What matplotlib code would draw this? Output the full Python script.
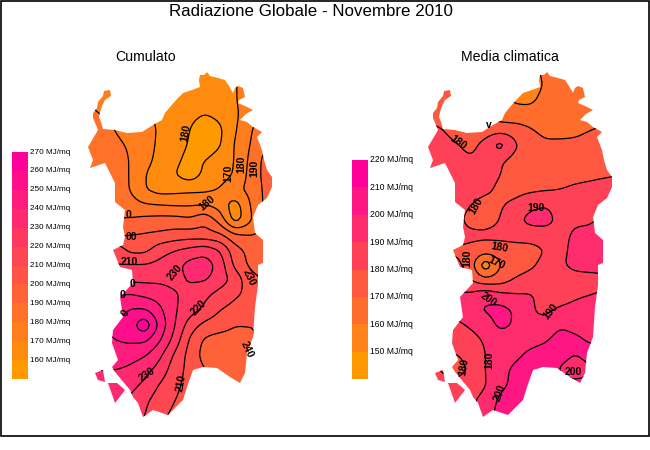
import numpy as np
import matplotlib
matplotlib.use('Agg')
import matplotlib.pyplot as plt
from matplotlib.colors import LinearSegmentedColormap
from matplotlib.path import Path
from matplotlib.patches import PathPatch, Rectangle

plt.rcParams['font.family'] = ['Liberation Sans', 'DejaVu Sans']

TITLE = 'Radiazione Globale - Novembre 2010'
UNIT = 'MJ/mq'

# coastline, in pixels
coast_main = [(110, 90), (111, 96), (105, 100), (102, 106), (100, 112), (99, 117), (101, 122), (103, 129),
              (115, 130), (127, 133), (142, 132), (153, 125), (162, 120), (165, 113), (170, 107), (178, 98),
              (183, 93), (192, 90), (200, 87), (199, 80), (200, 75), (204, 75), (207, 72), (210, 76), (218, 78),
              (225, 80), (229, 86), (233, 93), (235, 88), (238, 86), (243, 88), (245, 97), (239, 100), (238, 103),
              (245, 106), (253, 110), (246, 114), (240, 120), (247, 122), (253, 127), (262, 132), (257, 137),
              (262, 150), (264, 160), (267, 170), (272, 177), (272, 187), (267, 198), (258, 205), (253, 217),
              (255, 233), (263, 240), (263, 263), (258, 265), (258, 285), (255, 307), (253, 337), (247, 353),
              (245, 373), (240, 383), (230, 377), (217, 368), (203, 367), (193, 370), (187, 387), (183, 400),
              (168, 415), (153, 410), (143, 417), (138, 403), (133, 397), (130, 390), (115, 372), (112, 367),
              (118, 360), (112, 343), (113, 330), (123, 317), (120, 297), (133, 283), (132, 270), (120, 267),
              (113, 250), (123, 245), (125, 237), (123, 227), (125, 210), (115, 202), (115, 183), (105, 163),
              (90, 168), (93, 160), (88, 147), (98, 130), (96, 125), (93, 118), (93, 113), (97, 108), (98, 102),
              (103, 96), (104, 91)]
coast_san_pietro = [(95, 373), (103, 370), (105, 382), (98, 380)]
coast_antioco = [(108, 383), (117, 383), (125, 390), (115, 403)]
MAP_SHIFT = 340

grid_x = [85, 100, 115, 130, 145, 160, 175, 190, 205, 220, 235, 250, 265, 280]
grid_y = list(range(70, 431, 15))

# Cumulato, MJ/mq
cumulato = [
    [178, 178, 178, 176, 172, 168, 166, 166, 165, 165, 170, 176, 180, 182],
    [178, 178, 178, 175, 172, 168, 165, 164, 164, 165, 169, 176, 180, 182],
    [180, 179, 178, 175, 172, 168, 165, 163, 162, 164, 169, 176, 182, 184],
    [181, 180, 179, 175, 172, 168, 165, 162, 160, 162, 168, 176, 184, 186],
    [185, 182, 180, 176, 173, 169, 165, 160, 154, 158, 169, 179, 186, 188],
    [186, 184, 182, 179, 174, 168, 164, 159, 153, 159, 171, 180, 189, 192],
    [186, 185, 183, 180, 173, 167, 162, 157, 160, 165, 170, 182, 193, 195],
    [188, 186, 184, 180, 170, 165, 160, 155, 162, 165, 171, 183, 193, 196],
    [189, 187, 185, 180, 170, 166, 167, 168, 168, 171, 179, 182, 192, 197],
    [191, 190, 188, 184, 181, 180, 179, 179, 180, 176, 164, 180, 192, 197],
    [188, 189, 190, 191, 193, 194, 194, 192, 198, 186, 164, 178, 192, 197],
    [194, 196, 198, 200, 201, 202, 204, 205, 204, 202, 192, 190, 192, 197],
    [212, 215, 218, 207, 207, 216, 220, 223, 226, 220, 204, 197, 195, 197],
    [219, 219, 220, 221, 221, 223, 227, 234, 236, 226, 207, 198, 197, 197],
    [224, 225, 226, 228, 228, 228, 227, 231, 231, 225, 217, 203, 199, 198],
    [238, 239, 240, 241, 238, 236, 231, 227, 222, 216, 211, 208, 205, 205],
    [244, 244, 244, 251, 251, 242, 231, 224, 218, 210, 207, 205, 204, 204],
    [250, 250, 252, 256, 269, 247, 230, 215, 207, 204, 200, 200, 200, 200],
    [246, 248, 250, 252, 252, 241, 226, 208, 198, 196, 197, 199, 203, 203],
    [244, 245, 246, 244, 241, 232, 218, 206, 196, 195, 196, 199, 203, 203],
    [240, 240, 240, 238, 233, 226, 214, 207, 200, 196, 196, 198, 200, 200],
    [236, 236, 235, 233, 228, 219, 212, 207, 203, 200, 200, 200, 200, 200],
    [232, 232, 231, 229, 222, 215, 210, 206, 204, 202, 200, 200, 200, 200],
    [230, 229, 228, 226, 220, 212, 208, 205, 203, 202, 200, 200, 200, 200],
    [228, 227, 226, 224, 219, 211, 207, 204, 203, 202, 200, 200, 200, 200],
]

# Media climatica, MJ/mq
media = [
    [172, 171, 170, 168, 166, 163, 158, 157, 162, 164, 165, 165, 165, 165],
    [173, 172, 171, 168, 165, 162, 157, 155, 161, 164, 165, 165, 165, 165],
    [176, 175, 172, 169, 166, 162, 159, 158, 163, 164, 165, 165, 165, 165],
    [179, 176, 174, 171, 169, 165, 163, 164, 165, 165, 165, 165, 166, 166],
    [182, 181, 177, 175, 175, 176, 176, 171, 167, 167, 168, 170, 172, 172],
    [184, 183, 181, 177, 183, 196, 181, 176, 172, 172, 172, 173, 173, 173],
    [186, 186, 185, 181, 184, 181, 177, 175, 175, 175, 175, 175, 175, 175],
    [187, 187, 186, 185, 184, 180, 177, 176, 176, 176, 177, 178, 179, 180],
    [187, 187, 186, 185, 182, 178, 177, 178, 179, 180, 182, 183, 184, 184],
    [186, 186, 185, 180, 176, 179, 182, 188, 190, 187, 186, 186, 186, 186],
    [186, 186, 183, 177, 176, 180, 188, 193, 193, 188, 189, 189, 192, 192],
    [186, 186, 185, 182, 182, 183, 184, 185, 186, 188, 191, 192, 193, 193],
    [181, 180, 178, 178, 176, 175, 176, 176, 180, 188, 192, 193, 193, 193],
    [186, 185, 183, 176, 150, 170, 175, 178, 183, 189, 192, 193, 193, 193],
    [188, 188, 186, 180, 173, 175, 181, 184, 185, 186, 187, 187, 188, 188],
    [192, 192, 192, 192, 198, 193, 191, 191, 187, 187, 189, 190, 191, 191],
    [192, 192, 194, 199, 201, 204, 199, 191, 188, 191, 192, 193, 194, 194],
    [186, 186, 187, 191, 194, 203, 199, 191, 193, 199, 197, 196, 196, 196],
    [184, 184, 185, 187, 191, 194, 195, 197, 199, 204, 202, 199, 197, 197],
    [180, 180, 179, 183, 190, 195, 198, 202, 204, 204, 200, 204, 204, 204],
    [180, 180, 176, 181, 190, 197, 202, 205, 205, 199, 193, 198, 205, 205],
    [183, 183, 183, 185, 189, 198, 202, 204, 204, 205, 204, 205, 205, 205],
    [186, 186, 186, 188, 193, 202, 204, 204, 204, 205, 205, 205, 205, 205],
    [187, 187, 187, 189, 195, 204, 205, 205, 205, 205, 205, 205, 205, 205],
    [187, 187, 187, 189, 195, 204, 205, 205, 205, 205, 205, 205, 205, 205],
]

levels_cumulato = [160, 170, 180, 190, 200, 210, 220, 230, 240, 250, 260]
levels_media = [150, 160, 170, 180, 190, 200, 210]
legend_cumulato = [270, 260, 250, 240, 230, 220, 210, 200, 190, 180, 170, 160]
legend_media = [220, 210, 200, 190, 180, 170, 160, 150]

# inline contour labels as they sit on the maps: x, y, text, rotation
labels_cumulato = [(186, 133, '180', 80), (228, 173, '170', 90), (241, 164, '180', 90), (254, 168, '190', 90),
                   (207, 203, '180', 40), (128, 215, '0', 0), (131, 237, '00', 0), (129, 262, '210', 0),
                   (175, 272, '230', 50), (249, 278, '230', -65), (133, 284, '0', 0), (123, 295, '0', 0),
                   (125, 313, '0', 60), (199, 308, '220', 45), (247, 350, '240', -65), (147, 375, '230', 35),
                   (181, 383, '210', 80)]
labels_media = [(458, 143, '180', -35), (489, 125, 'v', 0), (476, 206, '180', 60), (536, 208, '190', 0),
                (499, 248, '180', -10), (467, 258, '180', 90), (497, 263, '170', -25), (488, 299, '200', -35),
                (551, 311, '190', 50), (489, 360, '180', 90), (464, 367, '180', 80), (500, 393, '200', 70),
                (573, 372, '200', 0)]


def coast_path(dx):
    verts, codes = [], []
    for ring in [coast_main, coast_san_pietro, coast_antioco]:
        pts = [(x + dx, y) for x, y in ring]
        verts += pts + [pts[0]]
        codes += [Path.MOVETO] + [Path.LINETO] * (len(pts) - 1) + [Path.CLOSEPOLY]
    return Path(verts, codes)


def smooth_field(x, y, z):
    # rounder isolines, the readings are only 15 px apart
    fx = np.arange(x[0], x[-1] + 1, 3)
    fy = np.arange(y[0], y[-1] + 1, 3)
    fine = np.array([np.interp(fx, x, row) for row in z])
    fine = np.array([np.interp(fy, y, col) for col in fine.T]).T
    kernel = np.array([1, 2, 3, 2, 1]) / 9
    pad = np.pad(fine, 2, mode='edge')
    pad = np.apply_along_axis(lambda r: np.convolve(r, kernel, mode='same'), 0, pad)
    pad = np.apply_along_axis(lambda r: np.convolve(r, kernel, mode='same'), 1, pad)
    return fx, fy, pad[2:-2, 2:-2]


def draw_map(ax, values, levels, labels, dx, cmap):
    x, y, z = smooth_field(np.array(grid_x) + dx, np.array(grid_y), np.array(values, dtype=float))
    patch = PathPatch(coast_path(dx), fc='none', ec='none', transform=ax.transData)
    ax.add_patch(patch)
    bounds = [0] + levels + [400]
    colors = [cmap(i / (len(bounds) - 2)) for i in range(len(bounds) - 1)]
    filled = ax.contourf(x, y, z, levels=bounds, colors=colors, antialiased=False)
    filled.set_clip_path(patch)
    lines = ax.contour(x, y, z, levels=levels, colors='black', linewidths=0.9)
    lines.set_clip_path(patch)
    for lx, ly, txt, rot in labels:
        ax.text(lx, ly, txt, fontsize=7.5, fontweight='bold', color='black', rotation=rot,
                ha='center', va='center')


def draw_legend(ax, values, x0, y_top, y_bottom, fontsize, cmap):
    h = (y_bottom - y_top) / len(values)
    for i, v in enumerate(values):
        color = cmap(1 - i / (len(values) - 1))
        ax.add_patch(Rectangle((x0, y_top + i * h), 16, h, fc=color, ec='none'))
        ax.text(x0 + 18, y_top + i * h, f'{v} {UNIT}', fontsize=fontsize, color='black',
                ha='left', va='center')


fig = plt.figure(figsize=(6.5, 4.5), dpi=100)
ax = fig.add_axes([0, 0, 1, 1])
ax.set_xlim(0, 650)
ax.set_ylim(450, 0)
ax.axis('off')

# orange to magenta, same ramp for both maps
ramp = LinearSegmentedColormap.from_list('ramp', ['#FF9900', '#FF0099'])

draw_map(ax, cumulato, levels_cumulato, labels_cumulato, 0, ramp)
draw_map(ax, media, levels_media, labels_media, MAP_SHIFT, ramp)
draw_legend(ax, legend_cumulato, 12, 152, 379, 5.9, ramp)
draw_legend(ax, legend_media, 352, 160, 379, 6.2, ramp)

ax.text(311, 12, TITLE, fontsize=12.2, ha='center', va='center')
ax.text(146, 57, 'Cumulato', fontsize=10.2, ha='center', va='center')
ax.text(510, 57, 'Media climatica', fontsize=10.2, ha='center', va='center')

ax.add_patch(Rectangle((0.8, 0.8), 648, 435, fc='none', ec='black', lw=1.2))

fig.savefig('out.png', dpi=100)
